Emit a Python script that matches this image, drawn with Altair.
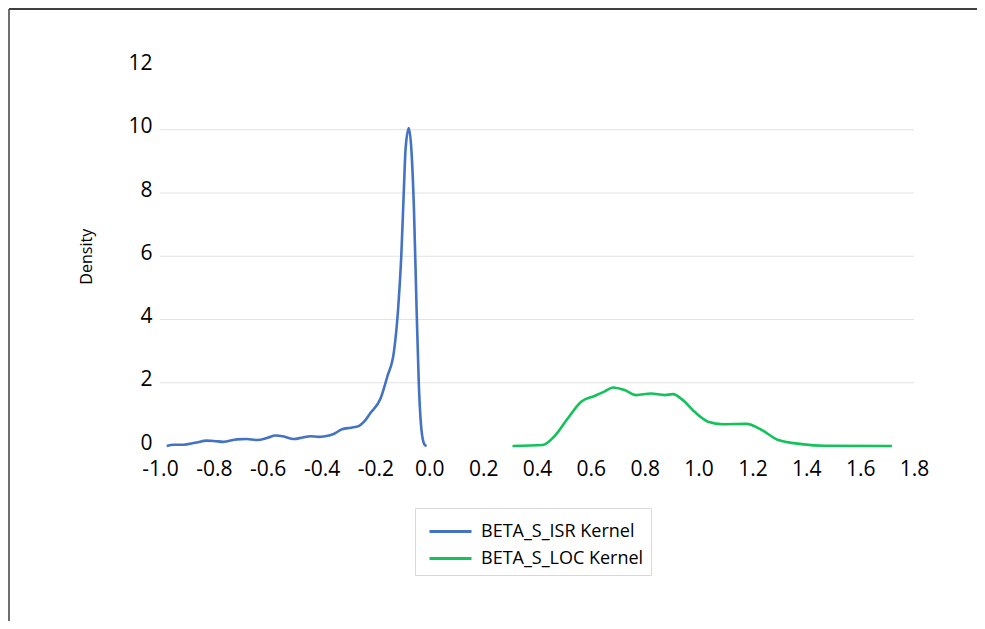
import altair as alt
import pandas as pd

# ---- data ----
series_names = ["BETA_S_ISR Kernel", "BETA_S_LOC Kernel"]
series_colors = ["#4472C4", "#12C35A"]

isr_x = [-0.975, -0.95, -0.913, -0.87, -0.826, -0.80, -0.765, -0.714, -0.68, -0.64,
         -0.60, -0.572, -0.54, -0.504, -0.47, -0.442, -0.41, -0.392, -0.355, -0.324,
         -0.29, -0.262, -0.243, -0.218, -0.181, -0.156, -0.131, -0.116, -0.104, -0.094,
         -0.088, -0.076, -0.066, -0.057, -0.047, -0.039, -0.029, -0.018, -0.010]
isr_y = [0.00, 0.04, 0.04, 0.10, 0.17, 0.16, 0.13, 0.21, 0.22, 0.19,
         0.26, 0.33, 0.30, 0.22, 0.27, 0.31, 0.29, 0.30, 0.38, 0.53,
         0.58, 0.63, 0.76, 1.05, 1.50, 2.19, 3.00, 4.30, 6.00, 8.20,
         9.40, 10.05, 9.30, 7.50, 4.30, 2.00, 0.51, 0.05, 0.00]

loc_x = [0.309, 0.421, 0.464, 0.514, 0.564, 0.613, 0.65, 0.682, 0.725, 0.768,
         0.824, 0.874, 0.905, 0.942, 0.985, 1.035, 1.091, 1.178, 1.234, 1.296,
         1.383, 1.469, 1.718]
loc_y = [0.00, 0.03, 0.30, 0.87, 1.40, 1.58, 1.72, 1.85, 1.77, 1.61,
         1.66, 1.61, 1.64, 1.45, 1.08, 0.77, 0.69, 0.70, 0.51, 0.19,
         0.06, 0.01, 0.00]

x_ticks = [-1.0, -0.8, -0.6, -0.4, -0.2, 0.0, 0.2, 0.4, 0.6, 0.8, 1.0, 1.2, 1.4, 1.6, 1.8]
y_ticks = [0, 2, 4, 6, 8, 10, 12]
grid_values = [2, 4, 6, 8, 10]

FONT = "Open Sans"

df = pd.concat([
    pd.DataFrame({"x": isr_x, "y": isr_y, "series": series_names[0]}),
    pd.DataFrame({"x": loc_x, "y": loc_y, "series": series_names[1]}),
], ignore_index=True)

x_scale = alt.Scale(domain=[-1.0, 1.8], nice=False, zero=False)
y_scale = alt.Scale(domain=[0, 12], nice=False)

y_axis = alt.Axis(values=y_ticks, domain=False, ticks=False, grid=False,
                  labelFontSize=21, labelFont=FONT, labelColor="#000000",
                  labelPadding=8, labelOffset=-3, titleFont=FONT, titleFontSize=16,
                  titleFontWeight="normal", titleColor="#000000",
                  titlePadding=33, labelOverlap=False, labelFlush=False)

grid = alt.Chart(pd.DataFrame({"g": grid_values})).mark_rule(
    color="#e2e2e2", strokeWidth=1
).encode(y=alt.Y("g:Q", scale=y_scale, title="Density", axis=y_axis))

lines = alt.Chart(df).mark_line(strokeWidth=2.6, interpolate="monotone").encode(
    x=alt.X("x:Q", scale=x_scale, title=None,
            axis=alt.Axis(values=x_ticks, domain=False, ticks=False, grid=False,
                          labelFontSize=21, labelFont=FONT, labelColor="#000000",
                          labelPadding=12, labelOverlap=False, labelFlush=False,
                          labelBound=False,
                          labelExpr="(datum.value < -0.0001 ? '-' : '') + format(abs(datum.value), '.1f')")),
    y=alt.Y("y:Q", scale=y_scale, title="Density", axis=y_axis),
    color=alt.Color("series:N",
                    scale=alt.Scale(domain=series_names, range=series_colors),
                    legend=alt.Legend(title=None, orient="none", legendX=255, legendY=441.5,
                                      strokeColor="#d9d9d9", padding=7, fillColor="#ffffff",
                                      symbolType="M-0.6,0H2.2", symbolSize=900,
                                      symbolStrokeWidth=3, labelOffset=26,
                                      labelFontSize=18, labelFont=FONT, labelColor="#000000",
                                      rowPadding=1, labelLimit=400)),
)

one = pd.DataFrame({"a": [0]})
border_left = alt.Chart(one).mark_rule(color="#6e6e6e", strokeWidth=2).encode(
    x=alt.value(-151), y=alt.value(-57.5), y2=alt.value(562.5))
border_top = alt.Chart(one).mark_rule(color="#404040", strokeWidth=2).encode(
    y=alt.value(-57.5), x=alt.value(-151), x2=alt.value(817))

chart = alt.layer(grid, lines, border_left, border_top).properties(
    width=754, height=379.5,
    autosize=alt.AutoSizeParams(type="none"),
    padding={"left": 152, "top": 58.5, "right": 63, "bottom": 175},
    background="#ffffff",
).configure_view(stroke=None)

chart.save("out.html", embed_options={"renderer": "svg", "actions": False})
